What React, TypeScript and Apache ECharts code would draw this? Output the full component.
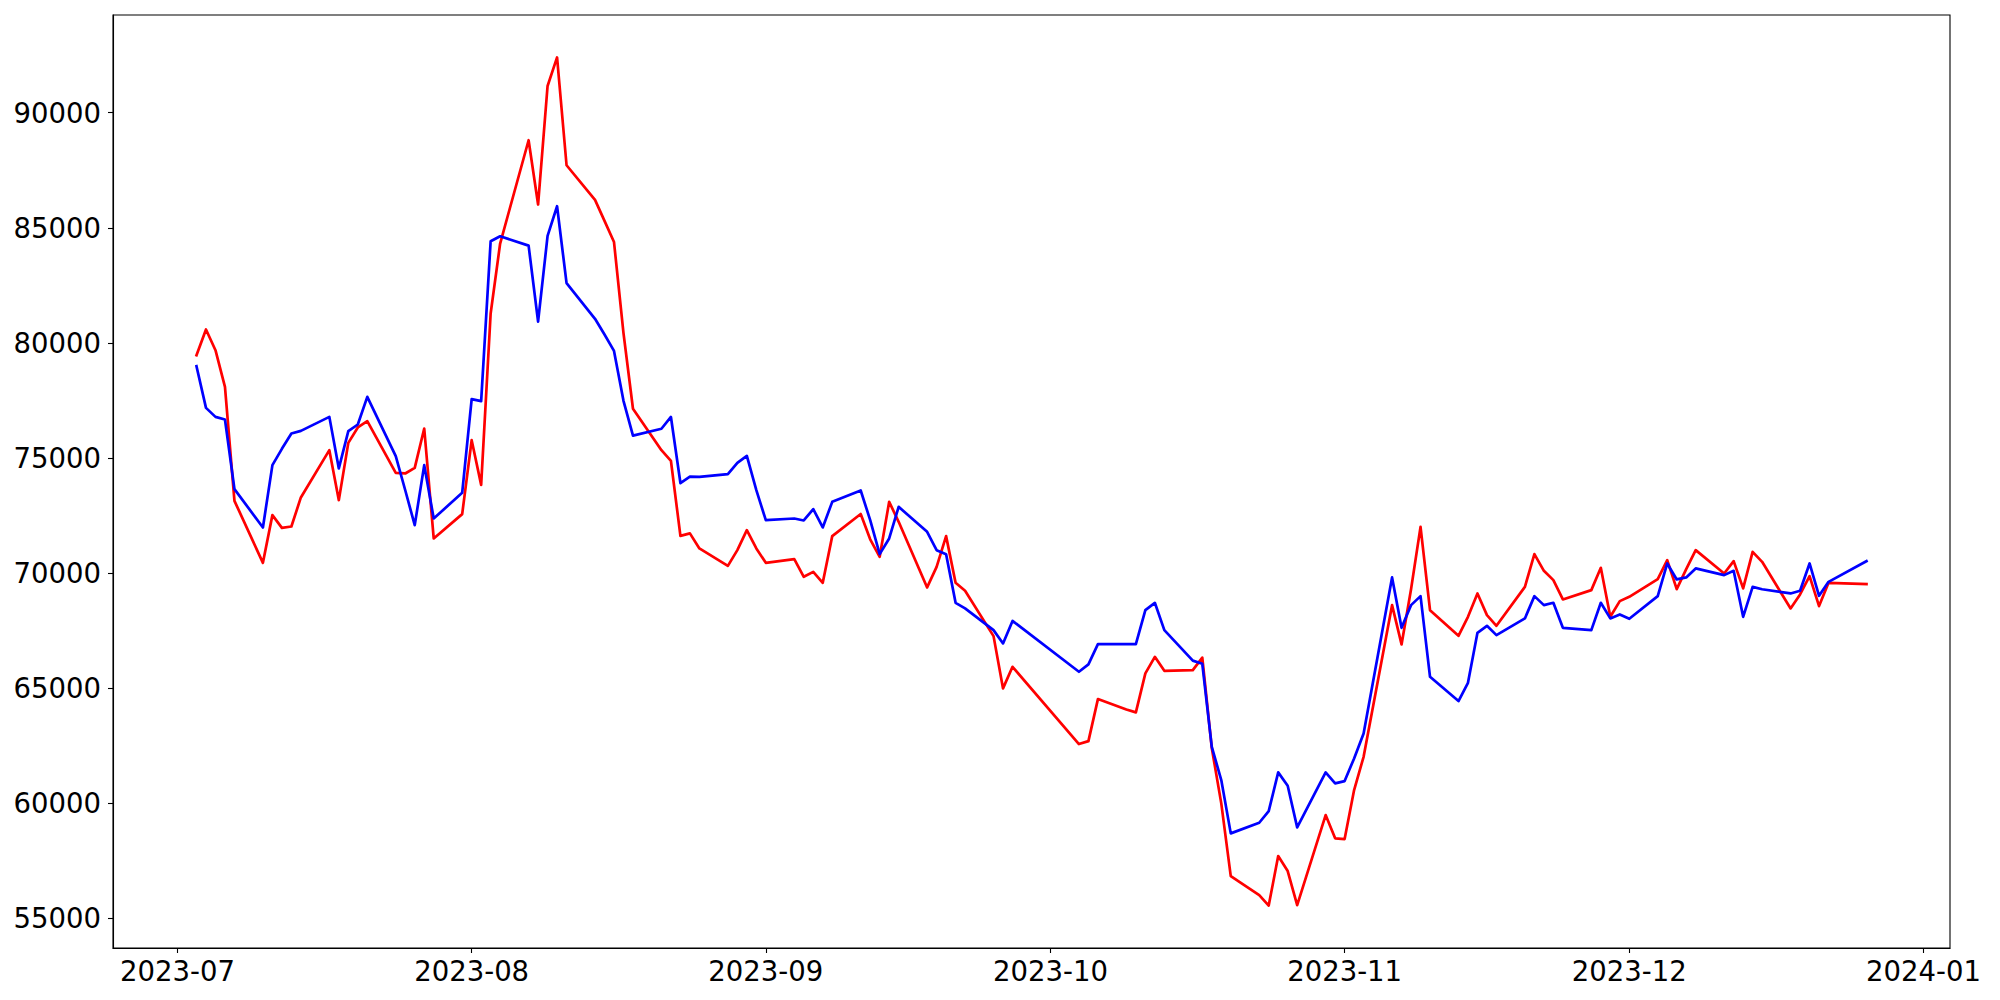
import React, { useEffect, useRef } from "react";
import * as echarts from "echarts";

const dates: string[] = [
  "2023-07-03","2023-07-04","2023-07-05","2023-07-06","2023-07-07",
  "2023-07-10","2023-07-11","2023-07-12","2023-07-13","2023-07-14",
  "2023-07-17","2023-07-18","2023-07-19","2023-07-20","2023-07-21",
  "2023-07-24","2023-07-25","2023-07-26","2023-07-27","2023-07-28",
  "2023-07-31","2023-08-01","2023-08-02","2023-08-03","2023-08-04",
  "2023-08-07","2023-08-08","2023-08-09","2023-08-10","2023-08-11",
  "2023-08-14","2023-08-15","2023-08-16","2023-08-17","2023-08-18",
  "2023-08-21","2023-08-22","2023-08-23","2023-08-24","2023-08-25",
  "2023-08-28","2023-08-29","2023-08-30","2023-08-31","2023-09-01",
  "2023-09-04","2023-09-05","2023-09-06","2023-09-07","2023-09-08",
  "2023-09-11","2023-09-12","2023-09-13","2023-09-14","2023-09-15",
  "2023-09-18","2023-09-19","2023-09-20","2023-09-21","2023-09-22",
  "2023-09-25","2023-09-26","2023-09-27",
  "2023-10-04","2023-10-05","2023-10-06",
  "2023-10-09","2023-10-10","2023-10-11","2023-10-12","2023-10-13",
  "2023-10-16","2023-10-17","2023-10-18","2023-10-19","2023-10-20",
  "2023-10-23","2023-10-24","2023-10-25","2023-10-26","2023-10-27",
  "2023-10-30","2023-10-31","2023-11-01","2023-11-02","2023-11-03",
  "2023-11-06","2023-11-07","2023-11-08","2023-11-09","2023-11-10",
  "2023-11-13","2023-11-14","2023-11-15","2023-11-16","2023-11-17",
  "2023-11-20","2023-11-21","2023-11-22","2023-11-23","2023-11-24",
  "2023-11-27","2023-11-28","2023-11-29","2023-11-30","2023-12-01",
  "2023-12-04","2023-12-05","2023-12-06","2023-12-07","2023-12-08",
  "2023-12-11","2023-12-12","2023-12-13","2023-12-14","2023-12-15",
  "2023-12-18","2023-12-19","2023-12-20","2023-12-21","2023-12-22",
  "2023-12-26",
];

const redValues: number[] = [
  79466, 80582, 79683, 78090, 73140,
  70447, 72519, 71968, 72027, 73287,
  75341, 73170, 75658, 76326, 76600,
  74356, 74329, 74573, 76282, 71506,
  72562, 75775, 73834, 81275, 84315,
  88802, 86010, 91159, 92400, 87716,
  86214, 85298, 84381, 80426, 77139,
  75341, 74876, 71619, 71728, 71072,
  70317, 71000, 71867, 71072, 70447,
  70608, 69840, 70057, 69579, 71607,
  72570, 71470, 70708, 73096, 72228,
  69379, 70274, 71607, 69579, 69232,
  67264, 64994, 65932,
  62575, 62705, 64529,
  64080, 63951, 65644, 66366, 65757,
  65788, 66330, 62400, 60000, 56843,
  56018, 55560, 57712, 57060, 55580,
  59492, 58480, 58451, 60578, 62024,
  68610, 66904, 69300, 72011, 68393,
  67278, 68103, 69118, 68176, 67712,
  69405, 70825, 70100, 69696, 68858,
  69262, 70230, 68103, 68784, 68971,
  69739, 70565, 69305, 70174, 70999,
  69986, 70521, 69336, 70926, 70491,
  68467, 69075, 69870, 68568, 69580,
  69522,
];

const blueValues: number[] = [
  78988, 77178, 76787, 76674, 73647,
  71984, 74690, 75400, 76066, 76180,
  76787, 74547, 76166, 76456, 77655,
  75081, 73600, 72084, 74690, 72374,
  73487, 77555, 77469, 84416, 84633,
  84225, 80925, 84646, 85936, 82597,
  81047, 80365, 79653, 77482, 75975,
  76270, 76783, 73912, 74190, 74180,
  74300, 74790, 75094, 73604, 72301,
  72374, 72288, 72779, 71984, 73096,
  73590, 72300, 70825, 71506, 72879,
  71793, 70999, 70825, 68710, 68467,
  67525, 66947, 67925,
  65715, 66035, 66917,
  66917, 66917, 68393, 68711, 67525,
  66200, 66060, 62457, 61011, 58697,
  59158, 59666, 61345, 60766, 58957,
  61345, 60868, 60968, 61953, 63039,
  69813, 67625, 68610, 69001, 65497,
  64442, 65237, 67408, 67712, 67308,
  68033, 69001, 68610, 68711, 67625,
  67525, 68711, 68033, 68207, 68016,
  69001, 70421, 69726, 69813, 70204,
  69913, 70100, 68103, 69405, 69300,
  69118, 69232, 70421, 69015, 69623,
  70521,
];

const yTickValues: number[] = [55000, 60000, 65000, 70000, 75000, 80000, 85000, 90000];
const xTickLabels: string[] = [
  "2023-07", "2023-08", "2023-09", "2023-10", "2023-11", "2023-12", "2024-01",
];

const toTs = (s: string): number => {
  const [y, m, d] = s.split("-").map(Number);
  return Date.UTC(y, m - 1, d || 1);
};

export default function App() {
  const ref = useRef<HTMLDivElement>(null);

  useEffect(() => {
    if (!ref.current) return;
    const chart = echarts.init(ref.current, null, { renderer: "svg" });

    const ts = dates.map(toTs);
    const first = ts[0];
    const last = ts[ts.length - 1];
    const pad = (last - first) * 0.05;
    const monthTicks = xTickLabels.map(toTs);
    const labelFor = new Map<number, string>();
    monthTicks.forEach((t, i) => labelFor.set(t, xTickLabels[i]));

    const allVals = redValues.concat(blueValues);
    const vMin = Math.min(...allVals);
    const vMax = Math.max(...allVals);
    const vPad = (vMax - vMin) * 0.05;

    const font = "DejaVu Sans";

    chart.setOption({
      animation: false,
      backgroundColor: "#ffffff",
      grid: {
        left: 113,
        right: 50,
        top: 15,
        bottom: 52,
        containLabel: false,
        outerBoundsMode: "none",
        show: true,
        borderColor: "#000000",
        borderWidth: 1.1,
        backgroundColor: "transparent",
      },
      xAxis: {
        type: "value",
        min: first - pad,
        max: last + pad,
        scale: true,
        axisLine: { show: true, onZero: false, lineStyle: { color: "#000000", width: 1.1 } },
        axisTick: {
          show: true,
          length: 5,
          customValues: monthTicks,
          lineStyle: { color: "#000000", width: 1.1 },
        },
        axisLabel: {
          show: true,
          customValues: monthTicks,
          color: "#000000",
          fontSize: 27.5,
          fontFamily: font,
          margin: 9,
          hideOverlap: false,
          formatter: (v: number) => {
            const hit = labelFor.get(v);
            if (hit) return hit;
            const d = new Date(v);
            return `${d.getUTCFullYear()}-${String(d.getUTCMonth() + 1).padStart(2, "0")}`;
          },
        },
        splitLine: { show: false },
      },
      yAxis: {
        type: "value",
        min: vMin - vPad,
        max: vMax + vPad,
        scale: true,
        axisLine: { show: true, onZero: false, lineStyle: { color: "#000000", width: 1.1 } },
        axisTick: {
          show: true,
          length: 5,
          customValues: yTickValues,
          lineStyle: { color: "#000000", width: 1.1 },
        },
        axisLabel: {
          show: true,
          customValues: yTickValues,
          color: "#000000",
          fontSize: 27.5,
          fontFamily: font,
          margin: 12,
          hideOverlap: false,
          formatter: (v: number) => String(Math.round(v)),
        },
        splitLine: { show: false },
      },
      series: [
        {
          name: "red",
          type: "line",
          data: ts.map((t, i) => [t, redValues[i]]),
          showSymbol: false,
          symbol: "none",
          lineStyle: { color: "#ff0000", width: 2.7, join: "round", cap: "square" },
          itemStyle: { color: "#ff0000" },
          z: 2,
        },
        {
          name: "blue",
          type: "line",
          data: ts.map((t, i) => [t, blueValues[i]]),
          showSymbol: false,
          symbol: "none",
          lineStyle: { color: "#0000ff", width: 2.7, join: "round", cap: "square" },
          itemStyle: { color: "#0000ff" },
          z: 3,
        },
      ],
    });

    return () => {
      chart.dispose();
    };
  }, []);

  return (
    <div
      ref={ref}
      style={{ position: "fixed", left: 0, top: 0, width: 2000, height: 1000, background: "#fff" }}
    />
  );
}
